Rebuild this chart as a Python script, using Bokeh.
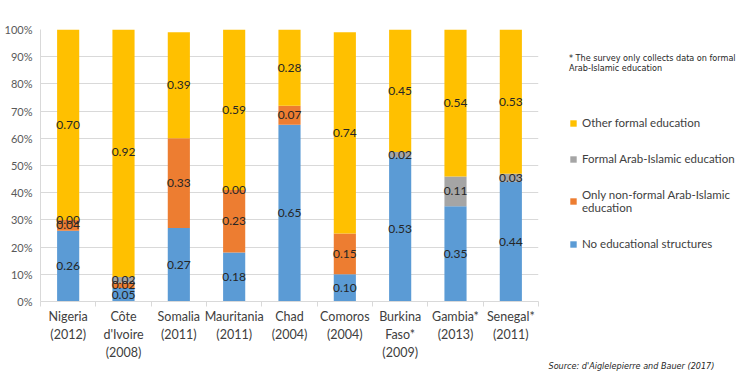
from bokeh.plotting import figure
from bokeh.models import (ColumnDataSource, FixedTicker, NumeralTickFormatter,
                          Legend, LegendItem, Title, Range1d)
from bokeh.core.properties import value
from bokeh.embed import file_html
from bokeh.resources import INLINE

countries = ["Nigeria\n(2012)", "Côte\nd'Ivoire\n(2008)", "Somalia\n(2011)",
             "Mauritania\n(2011)", "Chad\n(2004)", "Comoros\n(2004)",
             "Burkina\nFaso*\n(2009)", "Gambia*\n(2013)", "Senegal*\n(2011)"]
no_structures = [0.26, 0.05, 0.27, 0.18, 0.65, 0.10, 0.53, 0.35, 0.44]
non_formal = [0.04, 0.02, 0.33, 0.23, 0.07, 0.15, None, None, None]
formal_arab = [0.00, 0.02, None, 0.00, None, None, 0.02, 0.11, 0.03]
other_formal = [0.70, 0.92, 0.39, 0.59, 0.28, 0.74, 0.45, 0.54, 0.53]

series_names = ["No educational structures", "Only non-formal Arab-Islamic\neducation",
                "Formal Arab-Islamic education", "Other formal education"]
series_vals = [no_structures, non_formal, formal_arab, other_formal]
colors = ["#5B9BD5", "#ED7D31", "#A5A5A5", "#FFC000"]
note_text = "* The survey only collects data on formal\nArab-Islamic education"
source_text = "Source: d'Aiglelepierre and Bauer (2017)"

FONT = "Lato"
NARROW = "'DejaVu Sans Condensed', Roboto"
xs = [i + 0.5 for i in range(len(countries))]

data = {"x": xs}
keys = ["s0", "s1", "s2", "s3"]
for k, vals in zip(keys, series_vals):
    data[k] = [v if v is not None else 0.0 for v in vals]
src = ColumnDataSource(data)

p = figure(frame_width=498, frame_height=272, output_backend="svg", toolbar_location=None,
           x_range=Range1d(0, len(countries)), y_range=Range1d(0, 1),
           min_border_left=40, min_border_right=200, min_border_top=29,
           min_border_bottom=72)
p.outline_line_color = None
p.background_fill_color = "white"

renderers = p.vbar_stack(keys, x="x", width=0.4, color=colors, source=src,
                         line_color=None)

# value labels at segment centres
lx, ly, lt = [], [], []
for i in range(len(countries)):
    base = 0.0
    for vals in series_vals:
        v = vals[i]
        if v is None:
            continue
        lx.append(xs[i])
        ly.append(base + v / 2)
        lt.append(f"{v:.2f}")
        base += v
lsrc = ColumnDataSource(dict(x=lx, y=ly, t=lt))
p.text(x="x", y="y", text="t", source=lsrc, text_align="center",
       text_baseline="middle", text_font=value(FONT), text_font_size="12px",
       text_color="#262626")

# axes
p.yaxis.ticker = FixedTicker(ticks=[i / 10 for i in range(11)])
p.yaxis.formatter = NumeralTickFormatter(format="0%")
p.yaxis.major_label_text_font = FONT
p.yaxis.major_label_text_font_size = "11px"
p.yaxis.major_label_text_color = "#595959"
p.yaxis.major_label_standoff = 8
p.yaxis.major_tick_in = 0
p.yaxis.major_tick_out = 0
p.yaxis.minor_tick_line_color = None
p.yaxis.axis_line_color = "#D9D9D9"

p.xaxis.ticker = FixedTicker(ticks=xs, minor_ticks=list(range(len(countries) + 1)))
p.xaxis.major_label_overrides = {x: c for x, c in zip(xs, countries)}
p.xaxis.major_label_text_font = FONT
p.xaxis.major_label_text_font_size = "12.5px"
p.xaxis.major_label_text_color = "#404040"
p.xaxis.major_label_standoff = 2
p.xaxis.major_tick_line_color = None
p.xaxis.major_tick_in = 0
p.xaxis.major_tick_out = 0
p.xaxis.minor_tick_in = 0
p.xaxis.minor_tick_out = 5
p.xaxis.minor_tick_line_color = "#D9D9D9"
p.xaxis.axis_line_color = "#D9D9D9"

p.xgrid.grid_line_color = None
p.ygrid.grid_line_color = "#D9D9D9"

# legend (note as its title)
items = [LegendItem(label=series_names[i], renderers=[renderers[i]]) for i in [3, 2, 1, 0]]
legend = Legend(items=items, location=(31, 51), orientation="vertical",
                title=note_text, title_text_font=NARROW, title_text_font_size="9px",
                title_text_font_style="normal", title_text_color="#262626",
                title_standoff=43,
                glyph_width=8, glyph_height=8, label_text_font=FONT,
                label_text_font_size="11.5px", label_text_color="#404040",
                spacing=23, padding=0, margin=0, border_line_color=None,
                background_fill_alpha=0, label_standoff=5)
p.add_layout(legend, "right")

src_title = Title(text=source_text, align="left", offset=508,
                  text_font=NARROW, text_font_size="9px", text_font_style="italic",
                  text_color="#262626", standoff=-16)
p.add_layout(src_title, "below")

open("out.html", "w").write(file_html(p, INLINE))
